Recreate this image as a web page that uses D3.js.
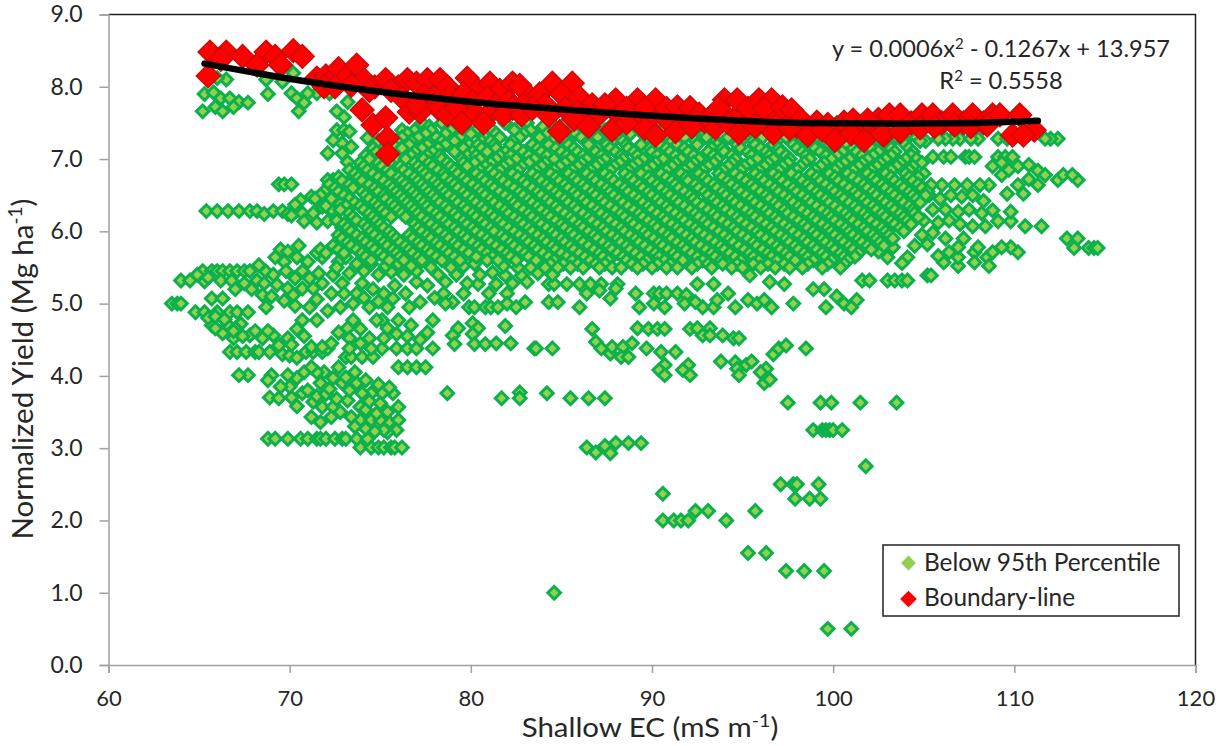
<!DOCTYPE html>
<html><head><meta charset="utf-8">
<script src="https://cdn.jsdelivr.net/npm/d3@7"></script>
<style>html,body{margin:0;background:#fff}svg{display:block}text{font-family:Lato,"Open Sans",sans-serif;fill:#262626}</style>
</head><body><div id="chart"></div>
<script>
const xTicks=[60,70,80,90,100,110,120];
const yTicks=[0,1,2,3,4,5,6,7,8,9];
const seriesNames=["Below 95th Percentile","Boundary-line"];

// scattered points, [x, y]
const sparsePoints=[[99.7,.5],[101,.5],[84.6,1],[97.4,1.3],[98.4,1.3],[99.5,1.3],[95.3,1.55],[96.3,1.55],[90.6,2],[91.2,2],[91.6,2],[92,2],[94.1,2],[92.4,2.13],[93.1,2.13],[95.7,2.13],[97.9,2.3],[98.7,2.3],[99.3,2.3],[90.6,2.37],[97.1,2.5],[97.8,2.5],[98,2.5],[99.2,2.5],[101.8,2.75],
[86.4,3.01],[86.9,2.94],[87.4,3.03],[87.7,2.93],[88,3.07],[88.7,3.07],[89.4,3.07],[98.9,3.25],[99.4,3.25],[99.6,3.25],[99.8,3.25],[100,3.25],[100.5,3.25],[97.5,3.63],[99.3,3.63],[99.9,3.63],[101.5,3.63],[103.5,3.63],
[78.7,3.76],[81.7,3.69],[82.7,3.77],[82.7,3.69],[84.2,3.76],[85.5,3.69],[86.5,3.69],[87.4,3.69],
[96.2,3.9],[96.5,3.95],[96.3,4.1],[96.7,4.3],[97,4.38],[97.4,4.42],[98.5,4.38],[96,4.05],[95.2,4.15],[95.5,4.2],
[79.3,4.66],[79,4.56],[79.1,4.44],[80.1,4.73],[80.4,4.66],[80.1,4.58],[80.2,4.44],[80.8,4.44],[81.4,4.45],[81.9,4.69],[82.2,4.45],[83.5,4.38],[83.6,4.38],[84.5,4.38],
[86.7,4.65],[86.9,4.47],[87.2,4.38],[87.7,4.31],[87.8,4.4],[88.4,4.4],[88.9,4.45],[88.3,4.26],[88.7,4.26],[89.7,4.38],[90.5,4.33],[91.3,4.33],[90.7,4.15],[90.4,4.08],[90.7,4.01],[92,4.15],[91.7,4.08],[92.1,4.01],[93.8,4.2],[94.6,4.19],[94.7,4.1],[94.8,4.01],
[89.2,4.66],[89.8,4.65],[90.3,4.65],[90.7,4.65],[92.1,4.65],[92.5,4.66],[92.8,4.56],[93.2,4.66],[93.2,4.56],[93.9,4.56],[94.5,4.52],[94.8,4.52],
[78.5,5.14],[79,5.02],[78.6,5],[79.6,5.14],[79.9,4.95],[80.2,4.95],[81,5.14],[80.8,4.95],[81.1,4.95],[81.5,4.95],[82,5.14],[82,5],[82.5,4.95],[83,5.02],[84.3,5.02],[84.8,5.02],[86,4.95],
[84.3,5.27],[84.6,5.27],[85.3,5.27],[86,5.27],[86.6,5.27],[87.2,5.27],[88.1,5.27],[86.4,5.14],[87.1,5.18],[87.7,5.07],[88,5.21],[89.1,5.14],[89.3,4.95],[90.1,5.14],[90.4,5.14],[90.8,5.14],[91.4,5.14],[91.9,5.12],[90.1,5],[90.7,4.95],[91.8,5],[92.8,4.95],[93.4,4.95],[93.6,5.05],[92.4,5.02],[94.2,5.14],[94.6,4.95],[95.3,5.05],[95.8,5],[96.2,5.05],[96.6,4.95],[97.8,5],[99.6,4.95],[100.2,5.1],[100.6,5],[101,4.95],[101.3,5.05],[101.6,5.32],[102,5.32],
[80.4,5.27],[81.4,5.27],[82.8,5.39],[81.9,5.39],[92.5,5.27],[93.4,5.27],[95.4,5.39],[96.5,5.3],[97.3,5.27],[99.5,5.2],[98.9,5.2],
[103,5.32],[103.4,5.32],[103.8,5.32],[104.1,5.32],[105.2,5.39],[105.4,5.39],
// lower left rows
[73.9,3.01],[74.5,3.01],[74.9,3.01],[75.2,3.01],[75.6,3.01],[75.8,3.01],[76.2,3.01],
[68.8,3.13],[69.2,3.13],[69.9,3.13],[70.6,3.13],[71,3.13],[71.5,3.13],[71.7,3.13],[72,3.13],[72.5,3.13],[72.9,3.13],[73.1,3.13],[73.7,3.13],[74.3,3.13],
[75.5,3.36],[76,3.39],[75.9,3.25],[75.4,3.22],[75.2,3.25],[73.9,3.39],[74.5,3.39],[75,3.39],[75.7,3.76],[75.1,3.76],[74.5,3.76],[74,3.76],[73.7,3.9],[72.9,3.9],[72.4,3.97],[71.9,4.05],[71.5,4.05],[70.8,4.05],[70.4,3.97],[69.9,4.01],[69,4.01],[68.8,3.94],[67.7,4.01],[67.2,4.01],
[68.9,3.7],[69.4,3.69],[70.1,3.7],[70.7,3.76],[71.3,3.64],[71.8,3.57],[72.4,3.57],[73.2,3.66],[73.9,3.57],[74.2,3.53],[74.8,3.48],[75.4,3.5],[76,3.57],[71,3.8],[71.5,3.72],[72,3.75],[72.6,3.68],[73.3,3.8],[74.4,3.65],[75,3.62],[71.7,3.9],[72.2,3.82],
[66.7,4.33],[67.1,4.33],[67.6,4.33],[68.1,4.33],[68.3,4.33],[68.9,4.33],[69.6,4.3],[70,4.28],[70.4,4.25],[70.9,4.33],[71.3,4.33],[71.8,4.33],[72.1,4.38],
[73.1,4.26],[73.4,4.26],[74,4.26],[74.6,4.26],[75.1,4.38],[75.9,4.38],[76.5,4.38],[77,4.38],[77.9,4.38],[76,4.12],[76.5,4.12],[77,4.12],[77.5,4.12],
[66.9,4.52],[66.3,4.59],[65.7,4.7],[64.8,4.88],[65.3,4.88],[66,4.88],[66.7,4.88],[67.1,4.88],[67.7,4.88],[65.5,4.8],[65.9,4.66],[66.6,4.7],[67.3,4.72],[67.8,4.56],[68.5,4.52],[69.1,4.56],[69.9,4.52],[70.4,4.65],[67,4.66],[68.7,4.95],[70.3,4.97],[71.1,4.95],[70.7,4.77],[71.5,4.77],[72.3,4.45],[71.2,4.4],[71.8,4.4],[73.5,4.77],[73.2,4.66],[73.9,4.65],[73.3,4.52],[73.9,4.45],[73.3,4.38],[74.4,4.52],[75.1,4.77],[75.4,4.66],[76,4.77],[76.7,4.7],[76.6,4.95],[75.4,4.95],[74.8,4.77],[77.6,4.6],[77.9,4.77],[74.4,4.95],
[63.5,5],[63.8,5],[64,5],[65.7,5.07],[66.3,5.07],[64,5.32],[64.5,5.32],[65.3,5.31],
[65.2,5.45],[65.7,5.45],[66,5.45],[66.3,5.45],[66.7,5.45],[67.1,5.45],[67.5,5.45],[67.8,5.45],
[66.2,5.32],[66.8,5.32],[67.5,5.28],[68.2,5.32],[68.6,5.28],[69.3,5.26],[69.9,5.21],[70.3,5.35],[70.7,5.21],[71.3,5.21],[71.1,5.35],[71.8,5.28],[72.9,5.28],[72.3,5.14],[73,5.14],[73.7,5.14],[74,5.28],[74.6,5.2],[75.2,5.14],[75.8,5.25],[76.4,5.14],[77,5.3],[77.6,5.25],[78.2,5.4],
[68.7,5.44],[69.7,5.58],[70.4,5.64],[71,5.58],[71.8,5.64],[72.7,5.58],[73.1,5.64],[69.2,5.64],[68.3,5.53],[69.1,5.4],[69.8,5.45],[70.7,5.45],[71.6,5.42],[72.4,5.4],[73.3,5.42],[74.1,5.45],[74.9,5.4],[75.6,5.44],[76.3,5.4],[77,5.45],[77.8,5.5],
[65.4,6.28],[66,6.28],[66.6,6.28],[67.2,6.28],[67.8,6.28],[68.2,6.28],[68.6,6.24],[69.1,6.28],[69.6,6.28],[69.9,6.24],[69.4,6.65],[69.7,6.65],[70.1,6.65],[70.6,6.43],[71.2,6.48],[71.8,6.48],[72.2,6.48],[70.7,6.25],[71.3,6.25],[71.8,6.34],[72.3,6.3],[72.8,6.38],[70.3,6.37],[69.5,5.75],[69.9,5.72],[70.5,5.8],
// upper left group
[65.3,7.9],[65.8,7.92],[66.2,7.84],[66.7,7.84],[67.2,7.79],[67.7,7.78],[66.9,7.72],[65.9,7.72],[65.2,7.66],[66.3,7.66],[66.5,8.1],[66,8.12],[68.8,7.9],[68.7,8.1],[69.6,8.07],[70.2,8.19],[70.1,7.91],[70.4,7.84],[70.8,7.78],[70.5,7.66],[71.5,7.91],[72.2,7.91],[71,7.91],[72.6,7.66],[73.2,7.79],[73,7.58],[72.6,7.4],[73,7.4],[74.3,7.29],[72.9,7.22],[73.4,7.17],[72.4,7.26],[72.1,7.08],[72.9,7.08],[73.2,6.96],[73.3,7.38],[72.4,6.71],[72.1,6.71],[72.7,6.71],[73.5,6.75],[73.8,6.85],[74.7,6.99],[76.2,7.4],[76.9,7.29],
// right side
[112.4,7.28],[112,7.28],[111.7,7.28],[109.1,7.28],[108,7.28],[107,7.28],[106.6,7.28],[106.2,7.28],[105.8,7.28],[105.1,7.25],[107.6,7.28],[109.6,7.28],
[105.5,7.03],[106.1,7.03],[106.5,7.03],[107.3,7.03],[107.5,7.03],[107.8,7.03],[109.1,7.03],[109.5,7.03],[109.9,7.03],[108.8,6.9],[110.2,6.9],[109.3,6.78],[110.8,6.92],[111.3,6.84],[111.7,6.78],[110.8,6.72],[111.3,6.64],[110.2,6.64],[109.6,6.52],[110.5,6.52],[112.4,6.71],[112.7,6.78],[113.5,6.71],[113.2,6.78],[109.3,6.95],[109.7,6.85],
[110.6,6.07],[111.5,6.07],[112.9,5.9],[113.5,5.9],[113.3,5.77],[114.1,5.77],[114.4,5.77],[114.6,5.77],[110.2,5.71],[109.8,5.78],[109.3,5.78],[108.5,5.64],[107.8,5.71],[107.8,5.57],[108.6,5.52],[108.8,5.71],
[106.9,5.52],[106.1,5.57],[105.8,5.66],[106.4,5.71],[106.9,5.64],[104.1,5.64],[103.8,5.56],[103,5.64],[107.2,5.9],[106.9,5.78],[108,5.78],[108.4,6.07],[107.7,6.07],[109.1,6.14],[109.8,6.14],[109.8,6.27],[108.8,6.29],[108.6,6.64],[108.1,6.64],[107.4,6.64],[106.7,6.64],[106,6.64],[105.4,6.64],[104.8,6.64],
[105.3,6.5],[105.9,6.45],[106.5,6.5],[107.1,6.48],[107.7,6.5],[108.3,6.42],[105.5,6.3],[106.2,6.3],[106.9,6.27],[107.5,6.3],[108.2,6.25],[105,6.15],[105.8,6.12],[106.4,6.15],[107,6.1],[104.9,5.95],[105.5,5.98],[106.2,5.9],[104.5,5.8],[105.2,5.82],[103.3,5.78],[102.5,5.72]
];
// further points filling the crowded lower-left rows
const crowdedLeft=[[71.2,3.43],[71.7,3.36],[72.3,3.43],[72.8,3.5],[73.4,3.43],[70.4,3.58],[70,3.85],[69.5,3.85],[73.6,3.3],[74.2,3.27],[74.7,3.23],[71.2,4.12],[72.7,4.12],[73.1,3.98],[73.6,4.05],[74.2,3.94],[74.9,3.88],[75.5,3.84],
[65.9,4.82],[66.4,4.78],[66.9,4.62],[67.4,4.55],[68.1,4.62],[68.8,4.62],[69.4,4.42],[70.1,4.43],[70.8,4.55],[72.7,4.6],[72.1,4.9],[72.8,4.95],[73.5,5],[74.1,5.08],[74.9,5.03],[75.7,5.07],[77.2,5.02],[78,5.08],[75.2,4.52],[75.9,4.58],[76.5,4.55],[77.2,4.5],[74.5,4.38],
[64.9,5.4],[65.5,5.36],[67,5.2],[67.9,5.2],[68.5,5.12],[69,5.1],[69.7,5.04],[70.2,5.12],[71.5,5.06],[72.6,5.5],[73.7,5.55],[74.5,5.55],[75.3,5.52],[76,5.55],[76.7,5.52],[78.6,5.3],[79.2,5.4],[79.8,5.28],[80.5,5.4],[81.2,5.43],[82.3,5.28],[83.1,5.3],[83.7,5.42],[84.5,5.4],[78.9,5.5],[79.6,5.52],[80.2,5.55],[81.8,5.52],[82.6,5.5],[83.3,5.5],
[71.5,5.7],[72.7,5.74],[72.8,5.92],[72.9,6.05],[73.4,5.84],[70.8,6.14],[71.5,6.12],[72.1,6.14],[70.1,6.22]];

// dense cloud: one list of x values for each yield level
const denseY=[7.5,7.4,7.3,7.2,7.1,7,6.9,6.8,6.7,6.6,6.5,6.4,6.3,6.2,6.1,6,5.9,5.8,5.7,5.6,5.5];
const denseX=[
[77.3,78.4,79.2,80.6,81.9,83.1,84.4,85.2,86.7,87.9,89.1,90.3,91.6,92.8,94.1,95.2,96.4,97.7,98.9,100.2,101.4,102.6,103.7],
[76.9,77.8,78.9,79.7,80.3,81.2,82.4,83.3,84.7,85.6,86.2,87.4,88.5,89.3,90.6,91.2,92.3,93.5,94.4,95.6,96.8,97.3,98.4,99.6,100.7,101.8,102.9,104.1],
[75.3,76.2,77.1,78.1,79.4,80.8,81.6,82.7,83.8,84.9,86.1,87,88.1,89.7,90.9,91.8,93,94.2,95.1,96.1,97.4,98.2,99.1,100.3,101.2,102.4,103.5,104.6],
[75.7,76.6,77.6,78.6,79.9,80.4,81.3,82.2,83.4,84.3,85.4,86.5,87.5,88.6,89.4,90.4,91.4,92.5,93.6,94.7,95.7,96.7,97.8,98.7,99.8,100.8,101.9,103,104],
[74.8,75.4,76.9,77.9,79.1,80.1,80.9,81.9,82.9,83.9,85,85.9,86.9,88,89,90,91,92,93.1,94,95.3,96.3,97.1,98.3,99.3,100.5,101.3,102.5,103.4,104.4],
[74.4,75.9,76.4,77.4,78.4,79.5,80.5,81.4,82.5,83.5,84.6,85.5,86.4,87.4,88.4,89.5,90.6,91.6,92.6,93.6,94.6,95.8,96.7,97.6,98.7,99.9,100.9,101.9,102.9,104,104.6],
[74.1,75.1,76.1,77.1,77.9,78.9,79.8,80.8,81.8,82.8,83.9,84.9,85.9,86.9,87.9,88.9,90,91.1,92.1,93.1,94.2,95.1,96.2,97.2,98.2,99.3,100.3,101.4,102.4,103.5,104.4],
[73.6,74.6,75.6,76.6,77.5,78.5,79.3,80.3,81.3,82.3,83.4,84.4,85.4,86.4,87.4,88.5,89.4,90.5,91.6,92.6,93.7,94.6,95.7,96.7,97.7,98.8,99.8,100.8,101.9,102.9,104,105],
[72.9,74,75.2,76.2,77.1,78,78.9,79.8,80.8,81.8,82.9,83.9,84.9,85.9,86.9,87.9,89,90,91.1,92,93.1,94.2,95.2,96.2,97.2,98.3,99.3,100.3,101.4,102.4,103.4,104.4],
[72.5,73.5,74.7,75.7,76.6,77.5,78.4,79.3,80.4,81.3,82.4,83.4,84.4,85.4,86.4,87.5,88.5,89.5,90.5,91.5,92.6,93.6,94.7,95.7,96.8,97.8,98.8,99.9,100.9,101.9,102.9,103.9,104.9],
[71.7,73,74.2,75.2,76.1,77,77.9,78.8,79.8,80.8,81.9,82.9,83.9,84.9,85.9,86.9,87.9,89,90,91,92.1,93.1,94.1,95.2,96.3,97.3,98.3,99.3,100.4,101.4,102.4,103.4,104.4,105.1],
[73.6,74.7,75.6,76.5,77.4,78.3,79.3,80.3,81.3,82.4,83.4,84.4,85.4,86.4,87.4,88.4,89.5,90.5,91.5,92.5,93.6,94.6,95.7,96.8,97.8,98.8,99.8,100.9,101.9,102.9,103.9,104.8],
[72.8,74.1,75.1,76,76.9,77.8,78.8,79.8,80.8,81.9,82.9,83.9,84.9,85.9,87,88,89,90,91,92.1,93.1,94.1,95.2,96.3,97.3,98.3,99.4,100.4,101.4,102.4,103.4,104.4],
[73.5,74.6,75.6,76.4,77.3,78.3,79.3,80.3,81.3,82.4,83.4,84.4,85.5,86.5,87.5,88.5,89.5,90.6,91.6,92.6,93.6,94.7,95.7,96.8,97.8,98.9,99.9,100.9,101.9,102.9,103.9,104.7],
[73,74.1,75,76.9,77.8,78.8,79.8,80.8,81.8,82.9,83.9,85,86,87,88,89,90.1,91.1,92.1,93.1,94.2,95.2,96.3,97.3,98.4,99.4,100.4,101.4,102.4,103.4,104.3],
[73.4,74.5,75.5,77.3,78.3,79.3,80.3,81.3,82.4,83.4,84.5,85.5,86.5,87.5,88.5,89.6,90.6,91.6,92.6,93.7,94.7,95.8,96.8,97.8,98.9,99.9,100.9,101.9,102.9,103.9],
[72.9,74,75,75.9,76.8,77.8,78.8,79.8,80.9,81.9,83,84,85,86,87,88.1,89.1,90.1,91.1,92.2,93.2,94.3,95.3,96.3,97.4,98.4,99.4,100.4,101.4,102.4,103.3],
[72.4,73.4,74.5,75.4,76.4,77.3,78.3,79.3,80.4,81.4,82.4,83.5,84.5,85.5,86.5,87.6,88.6,89.6,90.6,91.7,92.7,93.8,94.8,95.8,96.9,97.9,98.9,99.9,100.9,101.9,102.8],
[72,73,74,75,75.9,76.8,77.8,78.8,79.9,80.9,82,83,84,85,86,87.1,88.1,89.1,90.2,91.2,92.2,93.3,94.3,95.4,96.4,97.4,98.4,99.4,100.4,101.4],
[74.5,75.5,76.3,77.3,78.4,79.4,80.9,81.5,82.5,83.6,84.6,85.6,86.6,87.6,88.6,89.7,90.7,91.7,92.8,93.8,94.9,95.9,96.9,97.9,98.9,99.9,100.8],
[84.1,84.8,85.5,86.2,87.1,87.8,88.3,89.2,90,90.8,91.4,92.2,93.3,94.4,95,96,96.8,97.6,98.3,99.4,100.4]
];
// levels between the ones above
const midY=[7.45,7.35,7.25,7.15,7.05,6.95,6.85,6.75,6.65,6.55,6.45,6.35,6.25,6.15,6.05,5.95,5.85,5.75,5.65,5.55];
const midX=[
[77.7,79.6,80.9,82.7,84,86.4,88.2,90,91.9,93.2,95.5,97,98.6,100.5,102.2,103.2],
[76.5,77.5,78.6,80,81.4,82.9,84.2,85.8,86.8,88.8,90,91.5,92.9,94.6,95.9,97.7,99.3,100.1,101.6,103.1,104.3],
[74.9,75.9,76.7,78.4,79.1,80.6,81.1,82.3,84.5,85.3,86.5,87.8,88.4,90.2,91.1,92.4,93.5,94.9,95.6,96.9,98.5,99.5,100.6,101.7,102.7,103.9,104.8],
[74.6,75.2,76.2,77.3,78.2,79.6,80.6,81.4,82.6,83.7,84.7,85.7,87,87.7,88.7,89.9,90.8,91.8,93.3,93.9,94.9,96,97,98,99,100.1,101.1,102.1,103.2,104.2],
[74.2,75.7,76.7,77.6,78.3,79.8,80.3,81.6,82.2,83.2,84.2,85.3,86.2,87.2,88.3,89.2,90.3,91.3,92.3,93.4,94.4,95.5,96.5,97.4,98.5,99.6,100.2,101.6,102.2,103.2,104.3],
[73.9,74.9,75.5,76.9,77.7,78.7,79.6,80.2,81.1,82.1,83.2,84.1,85.2,86.1,87.1,88.2,89.2,90.2,91.3,92.3,93.4,94.4,95.4,96.4,97.5,98.4,99.5,100.6,101.6,102.6,103.7,104.9],
[73.3,74.3,75.4,76.3,77.3,78.2,79.1,80.5,81.1,81.6,82.6,83.6,84.6,85.6,86.6,87.7,88.7,89.7,90.8,91.8,92.8,93.9,94.9,95.9,97,98,99,100.1,101.1,102.1,103.2,104.2],
[72.7,73.8,74.9,76,76.9,77.7,78.6,79.6,80.6,81.6,82.6,83.7,84.7,85.7,86.7,87.7,88.8,89.8,90.8,91.9,92.9,93.9,94.9,96,97,98.1,99.1,100.1,101.1,102.2,103.2,104.2,104.7],
[72.2,73.3,74.4,75.5,76.4,77.3,78.2,79.1,80.1,81.1,82.1,83.1,84.2,85.2,86.2,87.2,88.2,89.3,90.3,91.3,92.4,93.4,94.4,95.5,96.5,97.5,98.6,99.6,100.6,101.7,102.7,103.7,104.7],
[71.9,72.7,74,74.9,75.9,76.8,77.7,78.6,79.6,80.6,81.6,82.7,83.7,84.7,85.7,86.7,87.7,88.7,89.8,90.8,91.8,92.9,93.9,94.9,96,97,98,99.1,100.1,101.2,102.2,103.2,104.2,105.2],
[71.4,72.3,73.3,74.4,75.3,76.3,77.2,78.1,79.1,80.1,81.1,82.2,83.2,84.2,85.2,86.2,87.2,88.2,89.3,90.3,91.3,92.3,93.4,94.4,95.5,96.5,97.6,98.6,99.6,100.6,101.7,102.7,103.7,104.6],
[72,73.1,73.9,74.9,75.8,76.7,77.6,78.6,79.6,80.6,81.6,82.6,83.7,84.7,85.7,86.7,87.7,88.7,89.8,90.8,91.8,92.8,93.9,94.9,96,97,98.1,99.1,100.1,101.2,102.2,103.2,104.2],
[73.3,74.4,75.3,76.2,77.1,78.1,79.1,80.1,81.1,82.1,83.2,84.2,85.2,86.2,87.2,88.3,89.3,90.3,91.3,92.4,93.4,94.4,95.5,96.5,97.5,98.6,99.7,100.7,101.7,102.7,103.7,104.5],
[72.6,73.7,74.8,77.6,78.6,79.6,80.6,81.6,82.7,83.7,84.7,85.7,86.7,87.7,88.8,89.8,90.8,91.8,92.9,93.9,94.9,96,97,98.1,99.1,100.1,101.1,102.1,103.2,104.1],
[73.2,74.3,75.2,77.1,78.1,79.1,80.1,81.1,82.1,83.2,84.2,85.2,86.2,87.3,88.3,89.3,90.3,91.4,92.4,93.4,94.5,95.5,96.6,97.6,98.6,99.7,100.7,101.7,102.7,103.7],
[72.7,73.7,74.7,75.7,76.6,77.6,78.6,79.6,80.6,81.7,82.7,83.7,84.7,85.7,86.8,87.8,88.8,89.8,90.9,91.9,92.9,94,95,96,97.1,98.1,99.1,100.1,101.1,102.2,103.1],
[73.2,74.2,75.2,76.1,77.1,78.1,79.1,80.1,81.1,82.2,83.2,84.2,85.2,86.2,87.3,88.3,89.3,90.4,91.4,92.4,93.5,94.5,95.6,96.6,97.6,98.6,99.6,100.6,101.6,102.6],
[71.7,72.7,73.7,74.7,75.7,76.6,77.6,78.6,79.6,80.6,81.7,82.7,83.7,84.7,85.7,86.8,87.8,88.8,89.9,90.9,91.9,93,94,95.1,96.1,97.1,98.1,99.1,100.1,101.1,102.1],
[74.2,75.2,76.1,77.1,78.1,79.1,80.3,81.2,82.2,83.2,84.3,85.3,86.3,87.3,88.4,89.4,90.4,91.4,92.5,93.5,94.6,95.6,96.6,97.6,98.6,99.6,100.6,101.2],
[84.4,85.1,85.9,86.9,87.4,88.9,89.5,90.3,91,92.5,93.1,93.9,94.7,95.6,96.4,97.3,98.6,99.7,100.6]
];

// boundary-line points, [x, y]
const boundaryPoints=[[65.5,8.15],[65.6,8.48],[66.5,8.48],[66.2,8.38],[67.4,8.42],[68.7,8.48],[69.2,8.42],[70.2,8.5],[70.7,8.42],[68.2,8.3],[69.5,8.3],[71.5,8.12],[72,8.15],[72.3,8.1],[72.7,8.25],[73.2,8.15],[73.7,8.3],[74.1,8.1],[74.7,8],[75.3,8.1],[76,8],[76.5,8.1],[77,8.05],[77.6,8.1],[78.3,8.1],[78.7,8],[79.8,8.12],[80.4,7.95],[81.05,8.05],[81.6,7.95],[82.3,8.05],[82.7,8.02],[83.3,7.85],[83.8,7.9],[84.5,8.05],[85.6,8.05],[85,7.9],[86,7.85],[86.7,7.75],
[71.9,8],[72.5,8],[73.4,8.02],[74.4,7.95],[75.6,7.95],[76.2,7.85],[77.4,7.88],[78,7.85],[78.9,7.88],[79.6,7.9],[80.1,7.8],[80.9,7.85],[81.4,7.75],[82.1,7.8],[82.9,7.75],[84.1,7.75],[85.2,7.7],[85.9,7.65],[86.3,7.6],[78.2,7.7],[80.2,7.65],[81,7.62],[82.3,7.7],[87,7.6],[88.2,7.6],[89,7.58],[90,7.6],[90.8,7.55],[91.8,7.58],[92.9,7.52],[93.8,7.6],[94.8,7.62],[95.6,7.6],[96.4,7.58],[97.2,7.55],[98,7.45],[100.2,7.42],[101.4,7.42],[102.3,7.45],[102.5,7.55],
[74,7.68],[74.6,7.47],[75.3,7.57],[75.4,7.29],[75.4,7.07],[76.6,7.65],[77.2,7.65],[77,7.75],[78.7,7.61],[79.2,7.7],[79.5,7.5],[80.7,7.5],[81.8,7.61],[82.8,7.61],[83.4,7.7],[84.9,7.38],[85.7,7.55],[86.5,7.45],[84.3,7.6],
[88,7.82],[87.4,7.75],[89.2,7.82],[88.6,7.7],[90.2,7.82],[89.6,7.7],[90.8,7.7],[91.4,7.72],[92.1,7.71],[92.6,7.62],[93.3,7.6],[94,7.82],[93.7,7.7],[94.7,7.82],[95.3,7.7],[95.9,7.82],[96.6,7.82],[96.2,7.7],[97.2,7.72],[97.7,7.68],[98.2,7.55],[99.1,7.51],[99.7,7.48],[100.6,7.51],[101.1,7.54],[101.9,7.54],
[87.8,7.4],[88.6,7.5],[89.6,7.42],[90.2,7.33],[91.3,7.38],[92.2,7.45],[93.5,7.43],[94.2,7.5],[94.8,7.36],[95.7,7.45],[96.7,7.36],[97.6,7.42],[98.6,7.33],[99.4,7.4],[100.1,7.26],[101,7.35],[101.7,7.26],[102.8,7.33],
[103.1,7.61],[103.7,7.61],[104.3,7.5],[104.9,7.61],[105.5,7.61],[106,7.5],[106.6,7.61],[107.2,7.5],[107.7,7.61],[108.3,7.5],[108.8,7.61],[109.2,7.61],[110.3,7.61],[111.1,7.4],[109.9,7.33],[110.5,7.33],[102.7,7.35],[103.7,7.38],[104.8,7.43],[105.6,7.45],[106.7,7.47],[107.6,7.45],[108.5,7.47]];

// trendline
const trendX=[65.3,70.5,76,81,87,92.6,98.2,103.7,108,111.3];
const trendY=[8.32,8.09,7.9,7.77,7.65,7.56,7.5,7.49,7.5,7.53];

const width=1228,height=746;
const svg=d3.select("#chart").append("svg").attr("width",width).attr("height",height);
const x=d3.scaleLinear().domain([60,120]).range([108.5,1195.5]);
const y=d3.scaleLinear().domain([0,9]).range([665,14.5]);

svg.append("path").attr("fill","none").attr("stroke","#222").attr("stroke-width",1.5)
  .attr("d",d3.line()([[x(60),y(9)],[x(120),y(9)],[x(120),y(0)]]));

const xAxis=svg.append("g").attr("transform",`translate(0,${y(0)})`)
  .call(d3.axisBottom(x).tickValues(xTicks).tickSize(8).tickPadding(17).tickFormat(d3.format("d")));
const yAxis=svg.append("g").attr("transform",`translate(${x(60)},0)`)
  .call(d3.axisLeft(y).tickValues(yTicks).tickSize(9).tickPadding(17).tickFormat(d3.format(".1f")));
[xAxis,yAxis].forEach((a,i)=>{
  a.selectAll("path,line").attr("stroke","#a0a0a0").attr("stroke-width",1.5);
  a.selectAll("text").style("font-size",i?"23px":"22px").style("font-family","Lato").attr("fill","#262626");
});

const diamond=size=>d3.symbol(d3.symbolSquare).size(size)();
const below=sparsePoints.concat(crowdedLeft);
denseY.forEach((v,i)=>{
  denseX[i].forEach(u=>below.push([u,v]));
  if(i<midY.length) midX[i].forEach(u=>below.push([u,midY[i]]));
});

svg.append("g").selectAll("path").data(below).join("path")
  .attr("d",diamond(80))
  .attr("transform",d=>`translate(${x(d[0])},${y(d[1])}) rotate(45)`)
  .attr("fill","#92d050").attr("stroke","#0db14b").attr("stroke-width",3);

svg.append("g").selectAll("path").data(boundaryPoints).join("path")
  .attr("d",diamond(280))
  .attr("transform",d=>`translate(${x(d[0])},${y(d[1])}) rotate(45)`)
  .attr("fill","#ff0000").attr("stroke","#cf0a0a").attr("stroke-width",1.5);

svg.append("path").datum(trendX.map((v,i)=>[v,trendY[i]]))
  .attr("fill","none").attr("stroke","#000").attr("stroke-width",6.5).attr("stroke-linecap","round")
  .attr("d",d3.line().x(d=>x(d[0])).y(d=>y(d[1])).curve(d3.curveMonotoneX));

const eq=svg.append("text").attr("x",1001).attr("y",57).attr("text-anchor","middle").style("font-size","23.6px");
eq.append("tspan").text("y = 0.0006x");
eq.append("tspan").attr("dy",-8).style("font-size","15px").text("2");
eq.append("tspan").attr("dy",8).text(" - 0.1267x + 13.957");
const r2=svg.append("text").attr("x",1001).attr("y",89).attr("text-anchor","middle").style("font-size","23.6px");
r2.append("tspan").text("R");
r2.append("tspan").attr("dy",-8).style("font-size","15px").text("2");
r2.append("tspan").attr("dy",8).text(" = 0.5558");

const xt=svg.append("text").attr("transform","translate(650,737) scale(1.09,1)").attr("text-anchor","middle").style("font-size","27px");
xt.append("tspan").text("Shallow EC (mS m");
xt.append("tspan").attr("dy",-10).style("font-size","18px").text("-1");
xt.append("tspan").attr("dy",10).text(")");
const yt=svg.append("text").attr("transform","translate(33,369) rotate(-90)").attr("text-anchor","middle").style("font-size","29.5px");
yt.append("tspan").text("Normalized Yield (Mg ha");
yt.append("tspan").attr("dy",-11).style("font-size","19px").text("-1");
yt.append("tspan").attr("dy",11).text(")");

svg.append("rect").attr("x",883).attr("y",545).attr("width",296).attr("height",71).attr("fill","#fff").attr("stroke","#222").attr("stroke-width",1.5);
[[seriesNames[0],"#92d050",110,563,571],[seriesNames[1],"#ff0000",140,599,606]].forEach(([t,c,s,cy,by])=>{
  svg.append("path").attr("d",diamond(s)).attr("transform",`translate(908.5,${cy}) rotate(45)`).attr("fill",c);
  svg.append("text").attr("x",924).attr("y",by).style("font-size","24.4px").text(t);
});
</script></body></html>
